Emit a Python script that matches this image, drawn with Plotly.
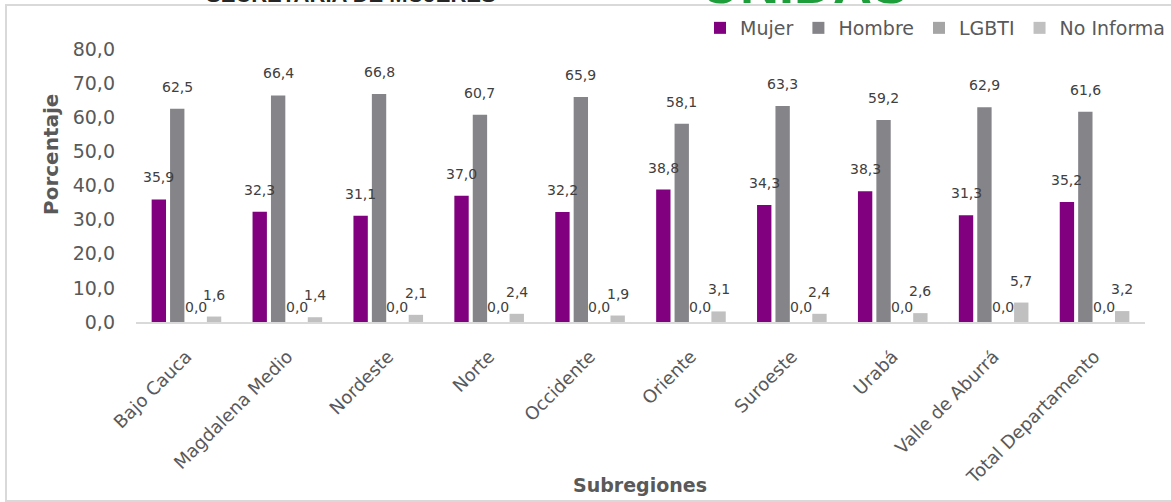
import plotly.graph_objects as go

# ---------------- data ----------------
categories = ["Bajo Cauca", "Magdalena Medio", "Nordeste", "Norte", "Occidente",
              "Oriente", "Suroeste", "Urabá", "Valle de Aburrá", "Total Departamento"]
mujer = [35.9, 32.3, 31.1, 37.0, 32.2, 38.8, 34.3, 38.3, 31.3, 35.2]
hombre = [62.5, 66.4, 66.8, 60.7, 65.9, 58.1, 63.3, 59.2, 62.9, 61.6]
lgbti = [0.0, 0.0, 0.0, 0.0, 0.0, 0.0, 0.0, 0.0, 0.0, 0.0]
no_informa = [1.6, 1.4, 2.1, 2.4, 1.9, 3.1, 2.4, 2.6, 5.7, 3.2]
series_names = ["Mujer", "Hombre", "LGBTI", "No Informa"]
y_ticks = [0, 10, 20, 30, 40, 50, 60, 70, 80]

# ---------------- style / layout ----------------
W, H = 1171, 502
ML, MR, MT, MB = 136, 26, 49, 180
PW, PH = W - ML - MR, H - MT - MB
BARGAP, BARGROUPGAP = 0.27, 0.22
FONT = "DejaVu Sans"
colors = ["#800080", "#858489", "#A5A5A5", "#C0C0C0"]
label_shift = [22, 22, 15, 22]


def px_to_paper_x(p):
    return (p - ML) / PW


def px_to_paper_y(p):
    return (H - MB - p) / PH


def fmt(v):
    return f"{v:.1f}".replace(".", ",")


series = [mujer, hombre, lgbti, no_informa]

fig = go.Figure()
for name, vals, col in zip(series_names, series, colors):
    fig.add_trace(go.Bar(x=categories, y=vals, name=name,
                         marker=dict(color=col, line=dict(width=0))))

# data labels
slot = PW / len(categories) * (1 - BARGAP) / len(series)
for i, vals in enumerate(series):
    for c, v in zip(categories, vals):
        fig.add_annotation(x=c, y=v, xref="x", yref="y", text=fmt(v), showarrow=False,
                           xshift=(i - (len(series) - 1) / 2) * slot, yshift=label_shift[i],
                           yanchor="middle", xanchor="center",
                           font=dict(family=FONT, size=14, color="#404040"))

# axis titles
fig.add_annotation(x=px_to_paper_x(51), y=px_to_paper_y(155), xref="paper", yref="paper",
                   text="<b>Porcentaje</b>", textangle=-90, showarrow=False,
                   xanchor="center", yanchor="middle",
                   font=dict(family=FONT, size=20, color="#595959"))
fig.add_annotation(x=px_to_paper_x(640), y=px_to_paper_y(485), xref="paper", yref="paper",
                   text="<b>Subregiones</b>", showarrow=False,
                   xanchor="center", yanchor="middle",
                   font=dict(family=FONT, size=19, color="#595959"))

# header fragments (cut at top of the image)
fig.add_annotation(x=px_to_paper_x(351), y=px_to_paper_y(9), xref="paper", yref="paper",
                   text="<b>SECRETARIA DE MUJERES</b>", showarrow=False,
                   xanchor="center", yanchor="bottom",
                   font=dict(family="Liberation Sans", size=22, color="#262626"))
fig.add_annotation(x=px_to_paper_x(804), y=px_to_paper_y(16), xref="paper", yref="paper",
                   text="<b>UNIDAS</b>", showarrow=False,
                   xanchor="center", yanchor="bottom",
                   font=dict(family="Liberation Sans", size=54, color="#1E9E3A"))

# outer chart border
fig.add_shape(type="rect", xref="paper", yref="paper",
              x0=px_to_paper_x(6), x1=px_to_paper_x(W + 20),
              y0=px_to_paper_y(501), y1=px_to_paper_y(5),
              line=dict(color="#D9D9D9", width=2), fillcolor="rgba(0,0,0,0)", layer="below")

fig.update_layout(
    width=W, height=H,
    margin=dict(l=ML, r=MR, t=MT, b=MB, autoexpand=False),
    paper_bgcolor="white", plot_bgcolor="white",
    barmode="group", bargap=BARGAP, bargroupgap=BARGROUPGAP,
    separators=",.",
    font=dict(family=FONT, color="#595959"),
    showlegend=True,
    legend=dict(orientation="h", x=px_to_paper_x(1171), xanchor="right",
                y=px_to_paper_y(28), yanchor="middle",
                font=dict(family=FONT, size=19, color="#595959"),
                itemwidth=30, bgcolor="rgba(0,0,0,0)"),
    xaxis=dict(tickangle=-45, tickfont=dict(family=FONT, size=18, color="#595959"),
               showline=True, linecolor="#D9D9D9", linewidth=2, ticks="",
               showgrid=False, zeroline=False, ticklabelstandoff=15),
    yaxis=dict(range=[0, 80], tickvals=y_ticks, tickformat=".1f",
               tickfont=dict(family=FONT, size=19, color="#595959"),
               showgrid=False, zeroline=False, showline=False, ticks="",
               ticklabelstandoff=20),
)

fig.write_html("out.html",
               config={"displayModeBar": False},
               post_script="document.body.style.margin='0';document.body.style.overflow='hidden';")
